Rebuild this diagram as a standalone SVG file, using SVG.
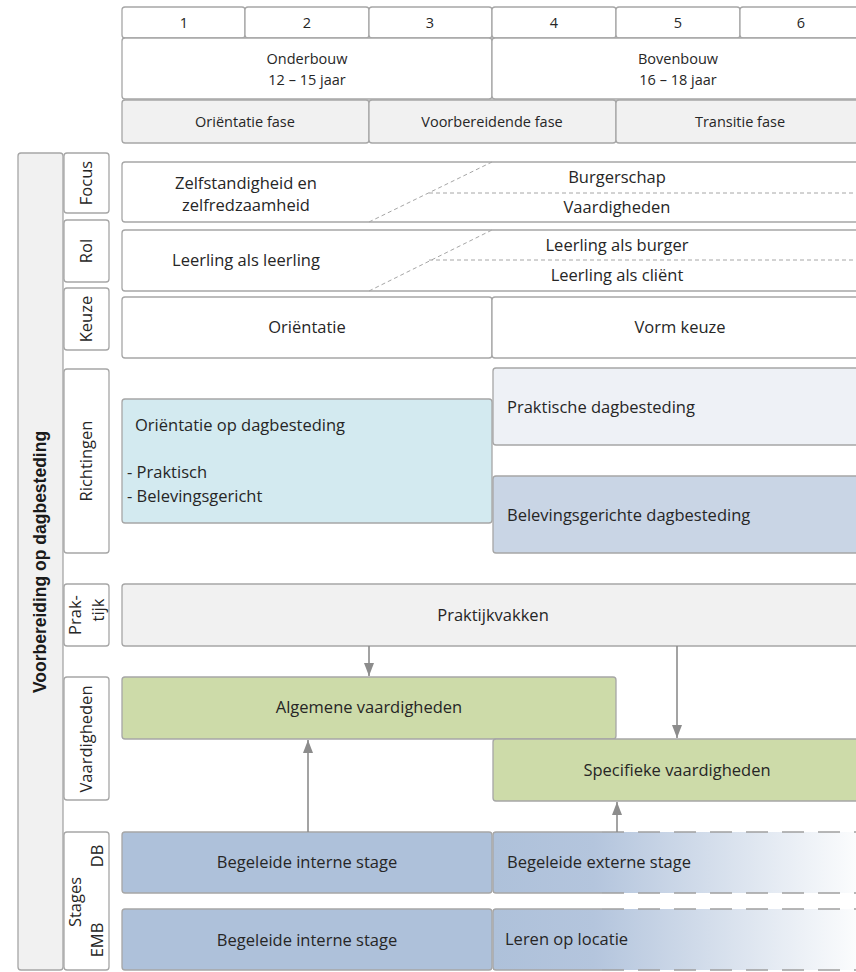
<svg xmlns="http://www.w3.org/2000/svg" width="856" height="972" viewBox="0 0 856 972">
<defs>
<style>
.b{stroke:#a6a6a6;stroke-width:1.3;}
.w{fill:#ffffff;}
.g{fill:#f1f1f1;}
.t{font-family:"Open Sans","Liberation Sans",Arial,sans-serif;font-size:16.5px;fill:#262626;}
.s{font-family:"Open Sans","Liberation Sans",Arial,sans-serif;font-size:14.5px;fill:#262626;}
.c{text-anchor:middle;}
.d{stroke:#a6a6a6;stroke-width:1;stroke-dasharray:4 3;fill:none;}
.ld{stroke:#a0a0a0;stroke-width:1.3;stroke-dasharray:22 14;fill:none;}
.a{stroke:#8c8c8c;stroke-width:1.6;fill:none;}
</style>
<marker id="ah" viewBox="0 0 13 10" refX="13" refY="5" markerWidth="13" markerHeight="10" markerUnits="userSpaceOnUse" orient="auto">
<path d="M0,0 L13,5 L0,10 z" fill="#8c8c8c"/>
</marker>
<linearGradient id="fade" gradientUnits="userSpaceOnUse" x1="493" y1="0" x2="856" y2="0">
<stop offset="0" stop-color="#aec1da"/>
<stop offset="0.28" stop-color="#b4c5dd"/>
<stop offset="1" stop-color="#fbfcfd"/>
</linearGradient>
</defs>

<g id="header-years">
<rect class="b w" x="122" y="7" width="123" height="31" rx="3"/>
<rect class="b w" x="245" y="7" width="124" height="31" rx="3"/>
<rect class="b w" x="369" y="7" width="123" height="31" rx="3"/>
<rect class="b w" x="492" y="7" width="124" height="31" rx="3"/>
<rect class="b w" x="616" y="7" width="124" height="31" rx="3"/>
<rect class="b w" x="740" y="7" width="130" height="31" rx="3"/>
<text class="s c" x="184" y="28">1</text>
<text class="s c" x="307" y="28">2</text>
<text class="s c" x="430" y="28">3</text>
<text class="s c" x="554" y="28">4</text>
<text class="s c" x="678" y="28">5</text>
<text class="s c" x="801" y="28">6</text>
</g>

<g id="header-bouw">
<rect class="b w" x="122" y="38" width="370" height="61" rx="3"/>
<rect class="b w" x="492" y="38" width="380" height="61" rx="3"/>
<text class="s c" x="307" y="64">Onderbouw</text>
<text class="s c" x="307" y="85">12 – 15 jaar</text>
<text class="s c" x="678" y="64">Bovenbouw</text>
<text class="s c" x="678" y="85">16 – 18 jaar</text>
</g>

<g id="header-fase">
<rect class="b g" x="122" y="100" width="247" height="43" rx="3"/>
<rect class="b g" x="369" y="100" width="247" height="43" rx="3"/>
<rect class="b g" x="616" y="100" width="256" height="43" rx="3"/>
<text class="s c" x="245" y="127">Oriëntatie fase</text>
<text class="s c" x="492" y="127">Voorbereidende fase</text>
<text class="s c" x="740" y="127">Transitie fase</text>
</g>

<g id="side-bar">
<rect class="b g" x="18" y="153" width="45" height="817" rx="3"/>
<text transform="translate(46,562) rotate(-90)" text-anchor="middle" style="font-family:'Liberation Sans',Arial,sans-serif;font-size:17.5px;font-weight:bold;fill:#1a1a1a">Voorbereiding op dagbesteding</text>
</g>

<g id="labels">
<rect class="b w" x="64" y="153" width="45" height="60" rx="3"/>
<text class="t c" transform="translate(92,183) rotate(-90)">Focus</text>
<rect class="b w" x="64" y="220" width="45" height="62" rx="3"/>
<text class="t c" transform="translate(92,251) rotate(-90)">Rol</text>
<rect class="b w" x="64" y="288" width="45" height="62" rx="3"/>
<text class="t c" transform="translate(92,319) rotate(-90)">Keuze</text>
<rect class="b w" x="64" y="369" width="45" height="184" rx="3"/>
<text class="t c" transform="translate(92,461) rotate(-90)">Richtingen</text>
<rect class="b w" x="64" y="584" width="45" height="62" rx="3"/>
<text class="t c" transform="translate(81,615) rotate(-90)">Prak-</text>
<text class="t c" transform="translate(104,610) rotate(-90)">tijk</text>
<rect class="b w" x="64" y="677" width="45" height="123" rx="3"/>
<text class="t c" transform="translate(92,739) rotate(-90)">Vaardigheden</text>
<rect class="b w" x="64" y="832" width="45" height="138" rx="3"/>
<text class="t c" transform="translate(81,902) rotate(-90)">Stages</text>
<text class="t c" transform="translate(103,856) rotate(-90)">DB</text>
<text class="t c" transform="translate(103,940) rotate(-90)">EMB</text>
</g>

<g id="focus">
<rect class="b w" x="122" y="162" width="750" height="60" rx="3"/>
<path class="d" d="M369,222 L492,162"/>
<path class="d" d="M429,193 L856,193"/>
<text class="t c" x="246" y="189">Zelfstandigheid en</text>
<text class="t c" x="246" y="211">zelfredzaamheid</text>
<text class="t c" x="617" y="183">Burgerschap</text>
<text class="t c" x="617" y="213">Vaardigheden</text>
</g>

<g id="rol">
<rect class="b w" x="122" y="230" width="750" height="61" rx="3"/>
<path class="d" d="M369,291 L492,230"/>
<path class="d" d="M429,260 L856,260"/>
<text class="t c" x="246" y="266">Leerling als leerling</text>
<text class="t c" x="617" y="251">Leerling als burger</text>
<text class="t c" x="617" y="281">Leerling als cliënt</text>
</g>

<g id="keuze">
<rect class="b w" x="122" y="297" width="370" height="61" rx="3"/>
<rect class="b w" x="492" y="297" width="380" height="61" rx="3"/>
<text class="t c" x="307" y="333">Oriëntatie</text>
<text class="t c" x="680" y="333">Vorm keuze</text>
</g>

<g id="orientatie-dagbesteding">
<rect class="b" fill="#d3eaf0" x="122" y="399" width="370" height="124" rx="3"/>
<text class="t" x="135" y="431">Oriëntatie op dagbesteding</text>
<text class="t" x="127" y="478">- Praktisch</text>
<text class="t" x="127" y="502">- Belevingsgericht</text>
</g>

<g id="praktische-dagbesteding">
<rect class="b" fill="#eef1f6" x="493" y="368" width="380" height="77" rx="3"/>
<text class="t" x="507" y="413">Praktische dagbesteding</text>
</g>

<g id="belevingsgerichte-dagbesteding">
<rect class="b" fill="#c9d5e5" x="493" y="476" width="380" height="77" rx="3"/>
<text class="t" x="507" y="521">Belevingsgerichte dagbesteding</text>
</g>

<g id="praktijkvakken">
<rect class="b g" x="122" y="584" width="750" height="62" rx="3"/>
<text class="t c" x="493" y="621">Praktijkvakken</text>
</g>

<g id="algemene-vaardigheden">
<rect class="b" fill="#cddba9" x="122" y="677" width="494" height="62" rx="3"/>
<text class="t c" x="369" y="713">Algemene vaardigheden</text>
</g>

<g id="specifieke-vaardigheden">
<rect class="b" fill="#cddba9" x="493" y="739" width="380" height="62" rx="3"/>
<text class="t c" x="677" y="776">Specifieke vaardigheden</text>
</g>

<g id="db-interne-stage">
<rect class="b" fill="#aec1da" x="122" y="832" width="370" height="61" rx="3"/>
<text class="t c" x="307" y="868">Begeleide interne stage</text>
</g>

<g id="db-externe-stage">
<rect fill="url(#fade)" x="493" y="832" width="370" height="61"/>
<path class="b" fill="none" d="M602,832 L496,832 Q493,832 493,835 L493,890 Q493,893 496,893 L602,893"/>
<path class="ld" d="M602,832 L856,832 M602,893 L856,893"/>
<text class="t" x="507" y="868">Begeleide externe stage</text>
</g>

<g id="emb-interne-stage">
<rect class="b" fill="#aec1da" x="122" y="909" width="370" height="61" rx="3"/>
<text class="t c" x="307" y="946">Begeleide interne stage</text>
</g>

<g id="emb-leren-op-locatie">
<rect fill="url(#fade)" x="493" y="909" width="370" height="61"/>
<path class="b" fill="none" d="M602,909 L496,909 Q493,909 493,912 L493,967 Q493,970 496,970 L602,970"/>
<path class="ld" d="M602,909 L856,909 M602,970 L856,970"/>
<text class="t" x="505" y="945">Leren op locatie</text>
</g>

<g id="connectors">
<line class="a" x1="369" y1="646" x2="369" y2="676" marker-end="url(#ah)"/>
<line class="a" x1="677" y1="646" x2="677" y2="738" marker-end="url(#ah)"/>
<line class="a" x1="308" y1="832" x2="308" y2="740" marker-end="url(#ah)"/>
<line class="a" x1="617" y1="832" x2="617" y2="802" marker-end="url(#ah)"/>
</g>
</svg>
